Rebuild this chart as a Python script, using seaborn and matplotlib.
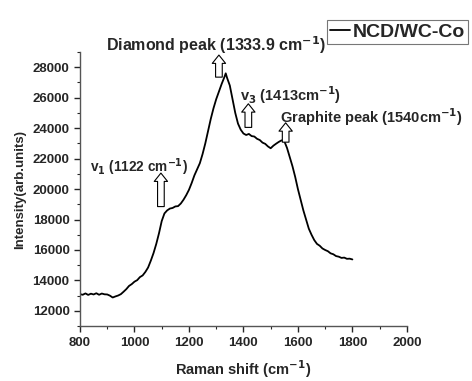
import numpy as np
import pandas as pd
import matplotlib
matplotlib.use("Agg")
import matplotlib.pyplot as plt
from matplotlib.ticker import MultipleLocator
import seaborn as sns

# Raman spectrum
shift = [800, 810, 820, 830, 840, 850, 860, 870, 880, 890, 900,
         910, 920, 930, 940, 950, 960, 970, 980, 990, 1000,
         1010, 1020, 1030, 1040, 1050, 1060, 1070, 1080, 1090, 1100,
         1110, 1120, 1130, 1140, 1150, 1160, 1170, 1180, 1190, 1200,
         1210, 1220, 1230, 1240, 1250, 1260, 1270, 1280, 1290, 1300,
         1310, 1320, 1330, 1335, 1340, 1350, 1360, 1370, 1380, 1390, 1400,
         1410, 1420, 1430, 1440, 1450, 1460, 1470, 1480, 1490, 1500,
         1510, 1520, 1530, 1540, 1550, 1560, 1570, 1580, 1590, 1600,
         1610, 1620, 1630, 1640, 1650, 1660, 1670, 1680, 1690, 1700,
         1710, 1720, 1730, 1740, 1750, 1760, 1770, 1780, 1790, 1800]
intensity = [13100, 13060, 13150, 13050, 13130, 13080, 13160, 13060, 13140, 13090, 13080,
             13000, 12880, 12950, 13010, 13100, 13260, 13430, 13640, 13760, 13920,
             14020, 14220, 14330, 14560, 14850, 15300, 15800, 16400, 17100, 17900,
             18400, 18600, 18720, 18760, 18860, 18880, 19050, 19300, 19600, 19950,
             20400, 20900, 21300, 21700, 22300, 23000, 23800, 24600, 25300, 25900,
             26400, 26900, 27350, 27600, 27300, 26800, 25900, 25000, 24300, 23900, 23650,
             23550, 23620, 23480, 23450, 23300, 23220, 23050, 22970, 22800, 22680,
             22850, 22980, 23100, 23200, 23150, 22700, 22100, 21500, 20800, 20000,
             19300, 18600, 18000, 17400, 17000, 16650, 16400, 16280, 16100, 16000,
             15920, 15780, 15720, 15600, 15560, 15480, 15500, 15420, 15430, 15380]

# peak annotations: label, label centre, arrow x, arrow base, arrow tip
labels = ["v$_\\mathbf{1}$ (1122 cm$^{\\mathbf{-1}}$)",
          "Diamond peak (1333.9 cm$^{\\mathbf{-1}}$)",
          "v$_\\mathbf{3}$ (1413cm$^{\\mathbf{-1}}$)",
          "Graphite peak (1540cm$^{\\mathbf{-1}}$)"]
label_size = [9.8, 11.5, 10.5, 10.5]
label_x = [1017, 1299, 1571, 1868]
label_y = [21440, 29440, 26160, 24720]
arrow_x = [1097, 1310, 1418, 1555]
arrow_base = [18850, 27350, 24050, 23080]
arrow_tip = [21050, 28800, 25600, 24350]

df = pd.DataFrame({"shift": shift, "intensity": intensity})

sns.set_style("ticks")
plt.rcParams["font.family"] = ["Liberation Sans", "DejaVu Sans"]
plt.rcParams["font.weight"] = "bold"
plt.rcParams["mathtext.default"] = "bf"

fig = plt.figure(figsize=(4.72, 3.81), dpi=100)
ax = fig.add_axes([0.1695, 0.144, 0.6925, 0.7195])

sns.lineplot(data=df, x="shift", y="intensity", ax=ax, color="black", lw=1.3,
             label="NCD/WC-Co")

ax.set_xlim(800, 2000)
ax.set_ylim(11000, 29000)
ax.xaxis.set_major_locator(MultipleLocator(200))
ax.xaxis.set_minor_locator(MultipleLocator(100))
ax.yaxis.set_minor_locator(MultipleLocator(1000))
ax.set_yticks(range(12000, 28001, 2000))
ax.tick_params(which="major", length=4, width=1, labelsize=9.5, direction="out")
ax.tick_params(which="minor", length=2.5, width=0.8, direction="out")
for t in ax.get_xticklabels() + ax.get_yticklabels():
    t.set_fontweight("bold")
sns.despine(ax=ax)
for s in ["left", "bottom"]:
    ax.spines[s].set_linewidth(1)
    ax.spines[s].set_color("#555555")

ax.set_xlabel("Raman shift (cm$^{\\mathbf{-1}}$)", fontsize=10.5, fontweight="bold", labelpad=7)
ax.set_ylabel("Intensity(arb.units)", fontsize=9.5, fontweight="bold", labelpad=5)

for lab, sz, lx, ly, px, pb, pt in zip(labels, label_size, label_x, label_y,
                                      arrow_x, arrow_base, arrow_tip):
    ax.text(lx, ly, lab, fontsize=sz, fontweight="bold", ha="center", va="center",
            clip_on=False)
    ax.annotate("", xy=(px, pt), xytext=(px, pb), annotation_clip=False,
                arrowprops=dict(arrowstyle="simple,head_length=0.5,head_width=0.8,tail_width=0.4",
                                fc="white", ec="black", lw=0.8, shrinkA=0, shrinkB=0,
                                mutation_scale=12))

leg = ax.legend(loc="upper right", bbox_to_anchor=(1.012, 0.972), bbox_transform=fig.transFigure,
                handlelength=1.0, handletextpad=0.15, borderpad=0.15, fancybox=False,
                framealpha=1, edgecolor="#777777", prop={"weight": "bold", "size": 14})
leg.get_frame().set_linewidth(0.8)

fig.savefig("out.png", dpi=100)
